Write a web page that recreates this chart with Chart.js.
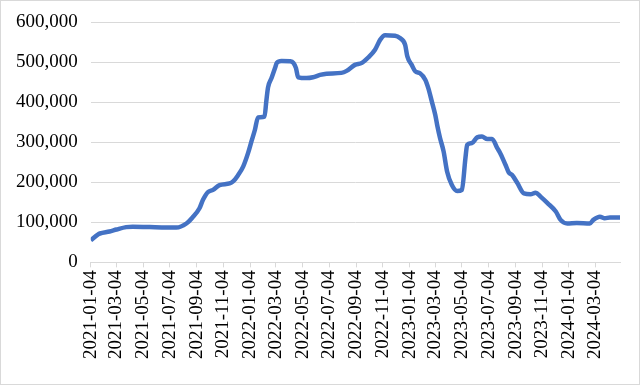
<!DOCTYPE html>
<html>
<head>
<meta charset="utf-8">
<script src="https://cdn.jsdelivr.net/npm/chart.js@4/dist/chart.umd.min.js"></script>
<style>
  html, body { margin: 0; padding: 0; background: #fff; }
  #wrap { width: 640px; height: 385px; position: relative; }
</style>
</head>
<body>
<div id="wrap"><canvas id="chart"></canvas></div>
<script>
const dates = [
  '2021-01-04', '2021-01-21', '2021-01-25', '2021-02-16', '2021-03-04', '2021-03-26',
  '2021-04-10', '2021-05-19', '2021-07-19', '2021-08-11', '2021-08-25', '2021-09-10',
  '2021-09-18', '2021-09-29', '2021-10-11', '2021-10-26', '2021-11-18', '2021-11-26',
  '2021-12-07', '2021-12-19', '2021-12-30', '2022-01-07', '2022-01-15', '2022-01-22',
  '2022-02-06', '2022-02-10', '2022-02-14', '2022-02-22', '2022-03-02', '2022-03-06',
  '2022-03-17', '2022-04-05', '2022-04-13', '2022-04-19', '2022-04-24', '2022-05-13',
  '2022-05-28', '2022-06-13', '2022-06-28', '2022-08-01', '2022-08-13', '2022-09-01',
  '2022-09-17', '2022-10-02', '2022-10-17', '2022-10-29', '2022-11-09', '2022-12-02',
  '2022-12-13', '2022-12-25', '2022-12-30', '2023-01-09', '2023-01-17', '2023-01-28',
  '2023-02-09', '2023-02-16', '2023-02-24', '2023-03-04', '2023-03-09', '2023-03-15',
  '2023-03-23', '2023-03-31', '2023-04-11', '2023-04-23', '2023-05-04', '2023-05-12',
  '2023-05-16', '2023-05-27', '2023-06-08', '2023-06-19', '2023-07-01', '2023-07-12',
  '2023-07-24', '2023-07-31', '2023-08-12', '2023-08-19', '2023-08-27', '2023-09-08',
  '2023-09-23', '2023-10-08', '2023-10-20', '2023-10-31', '2023-11-16', '2023-12-05',
  '2023-12-16', '2023-12-31', '2024-01-22', '2024-02-21', '2024-02-29', '2024-03-15',
  '2024-03-26', '2024-04-07', '2024-04-26', '2024-04-30'
];
const values = [
  55000, 70000, 72000, 77000, 82000, 88000,
  89000, 88000, 87000, 97000, 112000, 135000,
  156000, 175000, 181000, 193000, 197000, 202000,
  217000, 239000, 272000, 302000, 331000, 362000,
  364000, 402000, 437000, 460000, 485000, 498000,
  503000, 502000, 498000, 485000, 462000, 460000,
  462000, 468000, 471000, 473000, 478000, 493000,
  498000, 512000, 531000, 556000, 567000, 566000,
  560000, 543000, 514000, 493000, 477000, 472000,
  456000, 435000, 402000, 368000, 339000, 310000,
  277000, 227000, 193000, 178000, 181000, 260000,
  293000, 298000, 312000, 314000, 308000, 308000,
  285000, 272000, 243000, 225000, 218000, 198000,
  172000, 170000, 174000, 164000, 148000, 127000,
  106000, 97000, 98000, 97000, 106000, 114000,
  110000, 112000, 112000, 112000
];
const tickLabels = [
  '2021-01-04', '2021-03-04', '2021-05-04', '2021-07-04', '2021-09-04', '2021-11-04',
  '2022-01-04', '2022-03-04', '2022-05-04', '2022-07-04', '2022-09-04', '2022-11-04',
  '2023-01-04', '2023-03-04', '2023-05-04', '2023-07-04', '2023-09-04', '2023-11-04',
  '2024-01-04', '2024-03-04'
];

// days since the first date, used as the x position
function dayOf(s) {
  const p = s.split('-').map(Number);
  return (Date.UTC(p[0], p[1] - 1, p[2]) - Date.UTC(2021, 0, 4)) / 86400000;
}

const font = { family: "'Liberation Serif', 'Times New Roman', serif", size: 19 };
const gridColor = '#d9d9d9';

const frame = {
  id: 'frame',
  afterDraw(chart) {
    const c = chart.ctx;
    c.save();
    c.strokeStyle = '#d9d9d9';
    c.lineWidth = 1;
    c.strokeRect(0.5, 0.5, chart.width - 1, chart.height - 1);
    c.restore();
  }
};

new Chart(document.getElementById('chart'), {
  type: 'line',
  data: {
    datasets: [{
      data: dates.map((d, i) => ({ x: dayOf(d), y: values[i] })),
      borderColor: '#4472c4',
      borderWidth: 4.5,
      pointRadius: 0,
      cubicInterpolationMode: 'monotone',
      fill: false
    }]
  },
  options: {
    responsive: true,
    maintainAspectRatio: false,
    animation: false,
    layout: { padding: { left: 3, right: 20, top: 0, bottom: 23 } },
    plugins: { legend: { display: false }, tooltip: { enabled: false } },
    scales: {
      x: {
        type: 'linear',
        min: 0,
        max: dayOf('2024-04-30'),
        afterBuildTicks(axis) {
          axis.ticks = tickLabels.map(t => ({ value: dayOf(t) }));
        },
        ticks: {
          autoSkip: false,
          minRotation: 90,
          maxRotation: 90,
          padding: 3,
          color: '#000',
          font: font,
          callback: (v, i) => tickLabels[i]
        },
        grid: { drawOnChartArea: false, drawTicks: true, tickLength: 5, color: gridColor },
        border: { display: true, color: gridColor }
      },
      y: {
        min: 0,
        max: 600000,
        ticks: {
          stepSize: 100000,
          padding: 13,
          color: '#000',
          font: { ...font, lineHeight: 0.95 },
          callback: v => v.toLocaleString('en-US')
        },
        grid: { color: gridColor, drawTicks: false },
        border: { display: false }
      }
    }
  },
  plugins: [frame]
});
</script>
</body>
</html>
